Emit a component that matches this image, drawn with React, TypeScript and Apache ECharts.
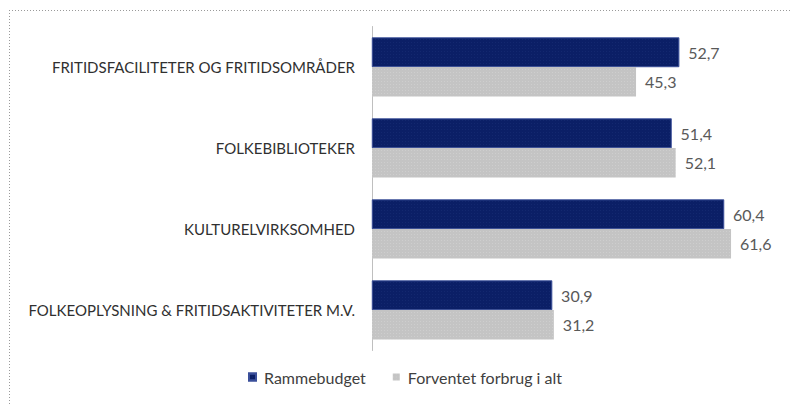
import React, { useEffect, useRef } from "react";
import * as echarts from "echarts";

const categories = [
  "FRITIDSFACILITETER OG FRITIDSOMRÅDER",
  "FOLKEBIBLIOTEKER",
  "KULTURELVIRKSOMHED",
  "FOLKEOPLYSNING & FRITIDSAKTIVITETER M.V.",
];
const rammebudget = [52.7, 51.4, 60.4, 30.9];
const forventet = [45.3, 52.1, 61.6, 31.2];
const seriesNames = ["Rammebudget", "Forventet forbrug i alt"];

const FONT = "Lato, 'Open Sans', sans-serif";
const fmt = (p: any) => String(p.value).replace(".", ",");

export default function App() {
  const ref = useRef<HTMLDivElement>(null);
  useEffect(() => {
    if (!ref.current) return;
    const chart = echarts.init(ref.current, undefined, { renderer: "svg" });
    chart.setOption({
      animation: false,
      backgroundColor: "#ffffff",
      grid: { left: 372, top: 26.5, width: 408, height: 324, containLabel: false },
      xAxis: {
        type: "value",
        min: 0,
        max: 70,
        show: false,
      },
      yAxis: {
        type: "category",
        inverse: true,
        data: categories,
        axisLine: { show: true, lineStyle: { color: "#bfbfbf", width: 1 } },
        axisTick: { show: false },
        axisLabel: {
          margin: 17,
          fontFamily: FONT,
          fontSize: 15,
          color: "#303030",
        },
      },
      legend: {
        left: 243,
        top: 364,
        itemWidth: 7,
        itemHeight: 7,
        itemGap: 27,
        icon: "rect",
        textStyle: { fontFamily: FONT, fontSize: 16, color: "#404040", padding: [0, 0, 0, 3] },
        data: seriesNames,
      },
      series: [
        {
          name: seriesNames[0],
          type: "bar",
          data: rammebudget,
          barWidth: 29.5,
          barGap: "0%",
          itemStyle: {
            color: "#0b1f66",
            borderColor: "#3a4f9a",
            borderWidth: 0.6,
            decal: {
              symbol: "rect",
              symbolSize: 0.6,
              color: "rgba(70,95,170,0.45)",
              dashArrayX: [1, 2],
              dashArrayY: [1, 2],
              rotation: 0,
            },
          },
          label: {
            show: true,
            position: "right",
            distance: 9,
            formatter: fmt,
            fontFamily: FONT,
            fontSize: 16,
            color: "#595959",
          },
        },
        {
          name: seriesNames[1],
          type: "bar",
          data: forventet,
          barWidth: 29.5,
          barGap: "0%",
          itemStyle: {
            color: "#c4c4c4",
            decal: {
              symbol: "rect",
              symbolSize: 0.6,
              color: "rgba(255,255,255,0.55)",
              dashArrayX: [1, 2],
              dashArrayY: [1, 2],
              rotation: 0,
            },
          },
          label: {
            show: true,
            position: "right",
            distance: 9,
            formatter: fmt,
            fontFamily: FONT,
            fontSize: 16,
            color: "#595959",
          },
        },
      ],
      graphic: [
        {
          type: "line",
          shape: { x1: 9, y1: 10.5, x2: 792, y2: 10.5 },
          style: { stroke: "#9a9a9a", lineWidth: 1, lineDash: [1, 2] },
        },
        {
          type: "line",
          shape: { x1: 9.5, y1: 10, x2: 9.5, y2: 405 },
          style: { stroke: "#9a9a9a", lineWidth: 1, lineDash: [1, 2] },
        },
      ],
    });
    return () => chart.dispose();
  }, []);
  return (
    <div
      ref={ref}
      style={{ position: "fixed", left: 0, top: 0, width: 792, height: 405 }}
    />
  );
}
